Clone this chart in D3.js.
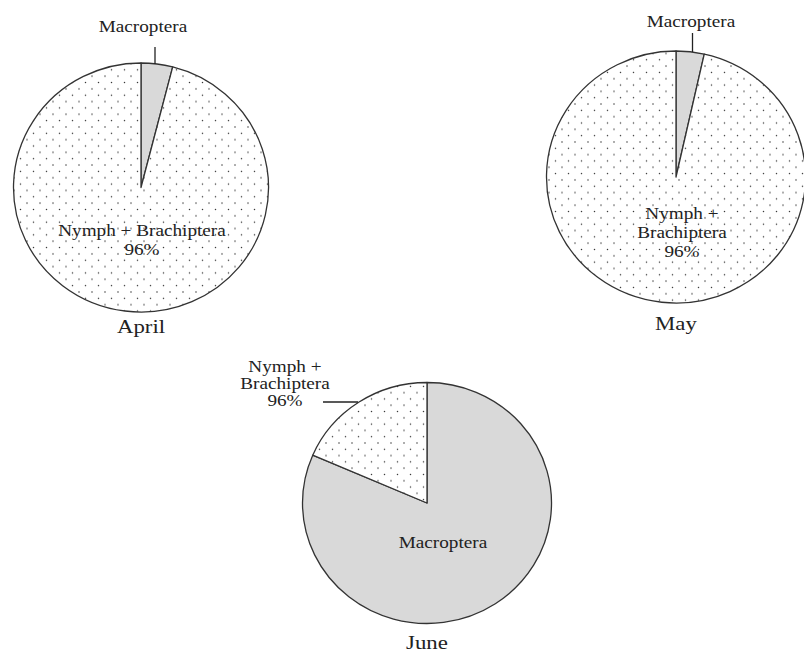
<!DOCTYPE html>
<html><head><meta charset="utf-8">
<script src="https://cdn.jsdelivr.net/npm/d3@7"></script>
<style>body{margin:0;background:#fff}svg{display:block}text{font-family:"Liberation Serif","Times New Roman",serif;fill:#222}</style>
</head><body><svg id="c" width="804" height="654"></svg>
<script>
// ---- data ----
const months = ["April", "May", "June"];
const categories = ["Macroptera", "Nymph + Brachiptera"];
const macroptera = [4.0, 3.5, 81.5];
const nymphBrachiptera = [96.0, 96.5, 18.5];
const nymphLabel = ["96%", "96%", "96%"];

// ---- layout ----
const layout = [
  {cx: 141, cy: 187.5, rx: 127.5, ry: 124.5, monthY: 333, macro: {x: 143, y: 32, line: [[155, 47], [155, 64]]},
   nymph: {x: 142, y: 236, lines: ["Nymph + Brachiptera", "96%"], dy: 19}},
  {cx: 676, cy: 177, rx: 129.5, ry: 126, monthY: 330, macro: {x: 691, y: 27, line: [[692.5, 33], [692.5, 52]]},
   nymph: {x: 682, y: 219, lines: ["Nymph +", "Brachiptera", "96%"], dy: 19}},
  {cx: 427, cy: 503, rx: 124.5, ry: 120.5, monthY: 649, macro: {x: 443, y: 548},
   nymph: {x: 285, y: 372, lines: ["Nymph +", "Brachiptera", "96%"], dy: 17, line: [[323, 402], [358, 402]]}}
];
const fills = {Macroptera: "#d9d9d9", "Nymph + Brachiptera": "url(#dots)"};

const svg = d3.select("#c");
const defs = svg.append("defs");
const pat = defs.append("pattern").attr("id", "dots").attr("patternUnits", "userSpaceOnUse")
  .attr("width", 13).attr("height", 13);
pat.append("rect").attr("width", 13).attr("height", 13).attr("fill", "#fff");
pat.append("circle").attr("cx", 3).attr("cy", 3).attr("r", 0.75).attr("fill", "#333");
pat.append("circle").attr("cx", 9.5).attr("cy", 9.5).attr("r", 0.75).attr("fill", "#333");

const pie = d3.pie().sort(null).value(d => d.v);

// approximate text widths factor (reference text is wide)
function stretchText(sel, size) {
  sel.each(function () {
    const t = d3.select(this);
    const w = this.getComputedTextLength();
    t.attr("textLength", w * 1.2).attr("lengthAdjust", "spacingAndGlyphs");
  });
}

months.forEach((m, i) => {
  const L = layout[i];
  const data = categories.map((c, k) => ({c, v: k === 0 ? macroptera[i] : nymphBrachiptera[i]}));
  const arc = d3.arc().innerRadius(0).outerRadius(L.rx);
  const g = svg.append("g").attr("transform", `translate(${L.cx},${L.cy}) scale(1,${L.ry / L.rx})`);
  g.selectAll("path").data(pie(data)).join("path")
    .attr("d", arc)
    .attr("fill", d => fills[d.data.c])
    .attr("stroke", "#333").attr("stroke-width", 1.3)
    .attr("vector-effect", "non-scaling-stroke")
    .attr("stroke-linejoin", "round");

  // Macroptera label
  const mt = svg.append("text").attr("x", L.macro.x).attr("y", L.macro.y)
    .attr("text-anchor", "middle").attr("font-size", 16).text(categories[0]);
  stretchText(mt);
  if (L.macro.line) {
    svg.append("line").attr("x1", L.macro.line[0][0]).attr("y1", L.macro.line[0][1])
      .attr("x2", L.macro.line[1][0]).attr("y2", L.macro.line[1][1])
      .attr("stroke", "#222").attr("stroke-width", 1.3);
  }
  // Nymph label
  const lines = L.nymph.lines.map(s => s === "96%" ? nymphLabel[i] : s);
  lines.forEach((s, j) => {
    const t = svg.append("text").attr("x", L.nymph.x).attr("y", L.nymph.y + j * L.nymph.dy)
      .attr("text-anchor", "middle").attr("font-size", 16).text(s);
    stretchText(t);
  });
  if (L.nymph.line) {
    svg.append("line").attr("x1", L.nymph.line[0][0]).attr("y1", L.nymph.line[0][1])
      .attr("x2", L.nymph.line[1][0]).attr("y2", L.nymph.line[1][1])
      .attr("stroke", "#222").attr("stroke-width", 1.3);
  }
  // Month label
  const mo = svg.append("text").attr("x", L.cx).attr("y", L.monthY)
    .attr("text-anchor", "middle").attr("font-size", 19).text(m);
  stretchText(mo);
});
</script></body></html>
